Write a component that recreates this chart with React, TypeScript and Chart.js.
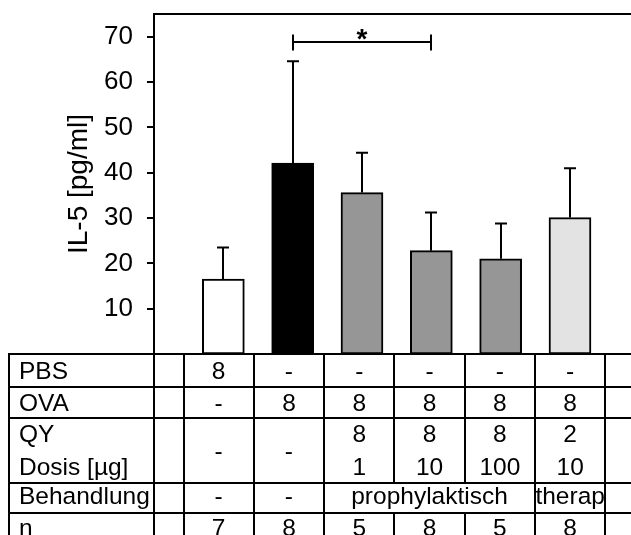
import React, { useEffect, useRef } from 'react';
import { Chart, registerables } from 'chart.js';

Chart.register(...registerables);

// ---- data ----
const groups = ['PBS', 'OVA', 'OVA + QY 1 µg', 'OVA + QY 10 µg', 'OVA + QY 100 µg', 'OVA + QY 10 µg (therap.)'];
const meanValues = [16.5, 42.1, 35.6, 22.8, 21.0, 30.1];
const sdValues = [7.0, 22.5, 8.8, 8.4, 7.8, 10.9];
const yTickValues = [10, 20, 30, 40, 50, 60, 70];
const sigPair = [1, 3];
const sigLevel = 68.8;
const sigLabel = '*';

const rowLabelPBS = 'PBS';
const rowPBS = ['8', '-', '-', '-', '-', '-'];
const rowLabelOVA = 'OVA';
const rowOVA = ['-', '8', '8', '8', '8', '8'];
const rowLabelQY = 'QY';
const rowQY = ['-', '-', '8', '8', '8', '2'];
const rowLabelDose = 'Dosis [µg]';
const rowDose = ['', '', '1', '10', '100', '10'];
const rowLabelTreat = 'Behandlung';
const rowTreat = ['-', '-', 'prophylaktisch', 'prophylaktisch', 'prophylaktisch', 'therap'];
const rowLabelN = 'n';
const rowN = ['7', '8', '5', '8', '5', '8'];

// ---- styles ----
const FONT = '"Liberation Sans", Arial, Helvetica, sans-serif';
const barColors = ['#ffffff', '#000000', '#969696', '#969696', '#969696', '#e3e3e3'];

const errorBarPlugin = {
  id: 'errorBars',
  afterDatasetsDraw(chart: any) {
    const ctx = chart.ctx;
    const yScale = chart.scales.y;
    const meta = chart.getDatasetMeta(0);
    ctx.save();
    ctx.strokeStyle = '#000';
    ctx.lineWidth = 2;
    meta.data.forEach((el: any, i: number) => {
      const x = Math.round(el.x);
      const yTop = yScale.getPixelForValue(meanValues[i] + sdValues[i]);
      ctx.beginPath();
      ctx.moveTo(x, el.y);
      ctx.lineTo(x, yTop);
      ctx.moveTo(x - 6, yTop);
      ctx.lineTo(x + 6, yTop);
      ctx.stroke();
    });
    ctx.restore();
  },
};

const bracketPlugin = {
  id: 'bracket',
  afterDatasetsDraw(chart: any) {
    const ctx = chart.ctx;
    const xScale = chart.scales.x;
    const yScale = chart.scales.y;
    const x1 = Math.round(xScale.getPixelForValue(sigPair[0]));
    const x2 = Math.round(xScale.getPixelForValue(sigPair[1]));
    const y = Math.round(yScale.getPixelForValue(sigLevel));
    ctx.save();
    ctx.strokeStyle = '#000';
    ctx.lineWidth = 2;
    ctx.beginPath();
    ctx.moveTo(x1, y);
    ctx.lineTo(x2, y);
    ctx.moveTo(x1, y - 7.5);
    ctx.lineTo(x1, y + 8.5);
    ctx.moveTo(x2, y - 7.5);
    ctx.lineTo(x2, y + 8.5);
    ctx.stroke();
    ctx.fillStyle = '#000';
    ctx.font = `bold 28px ${FONT}`;
    ctx.textAlign = 'center';
    ctx.textBaseline = 'alphabetic';
    ctx.fillText(sigLabel, (x1 + x2) / 2, y + 6);
    ctx.restore();
  },
};

const tablePlugin = {
  id: 'table',
  afterDraw(chart: any) {
    const ctx = chart.ctx;
    const { left, right, top, bottom } = chart.chartArea;
    const W = chart.width;
    const colStart = left + 29.5;
    const colW = 70.3;
    const rowH = [32.5, 31.5, 65, 29.5, 34];
    const rowTops: number[] = [];
    let yy = bottom;
    for (const h of rowH) {
      rowTops.push(yy);
      yy += h;
    }
    const yEnd = yy;
    ctx.save();
    ctx.strokeStyle = '#000';
    ctx.lineWidth = 2;
    const line = (ax: number, ay: number, bx: number, by: number) => {
      ctx.beginPath();
      ctx.moveTo(ax, ay);
      ctx.lineTo(bx, by);
      ctx.stroke();
    };
    // top frame
    line(left, Math.round(top), right, Math.round(top));
    // horizontal lines
    rowTops.forEach((t) => line(0, Math.round(t), W, Math.round(t)));
    // left border + axis continuation
    line(1, bottom, 1, yEnd);
    line(Math.round(left), bottom, Math.round(left), yEnd);
    // column boundaries
    for (let k = 0; k <= 6; k++) {
      const x = Math.round(colStart + k * colW);
      if (k === 3 || k === 4) {
        line(x, bottom, x, rowTops[3]);
        line(x, rowTops[4], x, yEnd);
      } else {
        line(x, bottom, x, yEnd);
      }
    }
    // text
    ctx.fillStyle = '#000';
    ctx.font = `24.5px ${FONT}`;
    ctx.textBaseline = 'alphabetic';
    const cx = (j: number) => colStart + (j + 0.5) * colW;
    const labelX = 11;
    const drawRow = (label: string, cells: string[], base: number) => {
      ctx.textAlign = 'left';
      ctx.fillText(label, labelX, base);
      ctx.textAlign = 'center';
      cells.forEach((c, j) => ctx.fillText(c, cx(j), base));
    };
    drawRow(rowLabelPBS, rowPBS, rowTops[0] + 24.5);
    drawRow(rowLabelOVA, rowOVA, rowTops[1] + 24.5);
    // QY / Dosis row
    ctx.textAlign = 'left';
    ctx.fillText(rowLabelQY, labelX, rowTops[2] + 24);
    ctx.fillText(rowLabelDose, labelX, rowTops[2] + 56.5);
    ctx.textAlign = 'center';
    rowQY.forEach((c, j) => {
      if (rowDose[j] === '') {
        ctx.fillText(c, cx(j), rowTops[2] + 41);
      } else {
        ctx.fillText(c, cx(j), rowTops[2] + 24);
        ctx.fillText(rowDose[j], cx(j), rowTops[2] + 56.5);
      }
    });
    // Behandlung row with spans
    const tb = rowTops[3] + 21;
    ctx.textAlign = 'left';
    ctx.fillText(rowLabelTreat, labelX, tb);
    ctx.textAlign = 'center';
    let j = 0;
    while (j < rowTreat.length) {
      let k = j;
      while (k + 1 < rowTreat.length && rowTreat[k + 1] === rowTreat[j] && rowTreat[j] !== '-') k++;
      ctx.fillText(rowTreat[j], (cx(j) + cx(k)) / 2, tb);
      j = k + 1;
    }
    drawRow(rowLabelN, rowN, rowTops[4] + 23);
    ctx.restore();
  },
};

export default function App() {
  const ref = useRef<HTMLCanvasElement>(null);
  useEffect(() => {
    const chart = new Chart(ref.current as HTMLCanvasElement, {
      type: 'bar',
      data: {
        labels: groups,
        datasets: [
          {
            data: meanValues.map((v, i) => ({ x: i, y: v })) as any,
            backgroundColor: barColors,
            borderColor: '#000',
            borderWidth: 2,
            borderSkipped: false,
            barThickness: 42,
          },
        ],
      },
      options: {
        animation: false,
        responsive: false,
        devicePixelRatio: 1,
        layout: { padding: { top: 6, bottom: 181, left: 0, right: 0 } },
        plugins: { legend: { display: false }, tooltip: { enabled: false } },
        scales: {
          x: { type: 'linear', min: -1, max: 5.88, offset: false, display: false },
          y: {
            min: 0,
            max: 75,
            afterBuildTicks: (axis: any) => {
              axis.ticks = yTickValues.map((v) => ({ value: v }));
            },
            afterFit: (s: any) => {
              s.width = 146;
              s.paddingTop = 0;
              s.paddingBottom = 0;
            },
            ticks: {
              padding: 14,
              color: '#000',
              font: { family: FONT, size: 26 },
            },
            grid: { drawOnChartArea: false, drawTicks: true, tickLength: 7, color: '#000', lineWidth: 2 },
            border: { display: true, color: '#000', width: 2 },
            title: {
              display: true,
              text: 'IL-5 [pg/ml]',
              color: '#000',
              font: { family: FONT, size: 28 },
              padding: { top: 54, bottom: 0 },
            },
          } as any,
        },
      },
      plugins: [errorBarPlugin, bracketPlugin, tablePlugin],
    });
    return () => chart.destroy();
  }, []);
  return (
    <div style={{ position: 'absolute', left: 8, top: 8, width: 623, height: 527, overflow: 'hidden' }}>
      <canvas ref={ref} width={623} height={527} style={{ display: 'block' }} />
    </div>
  );
}
